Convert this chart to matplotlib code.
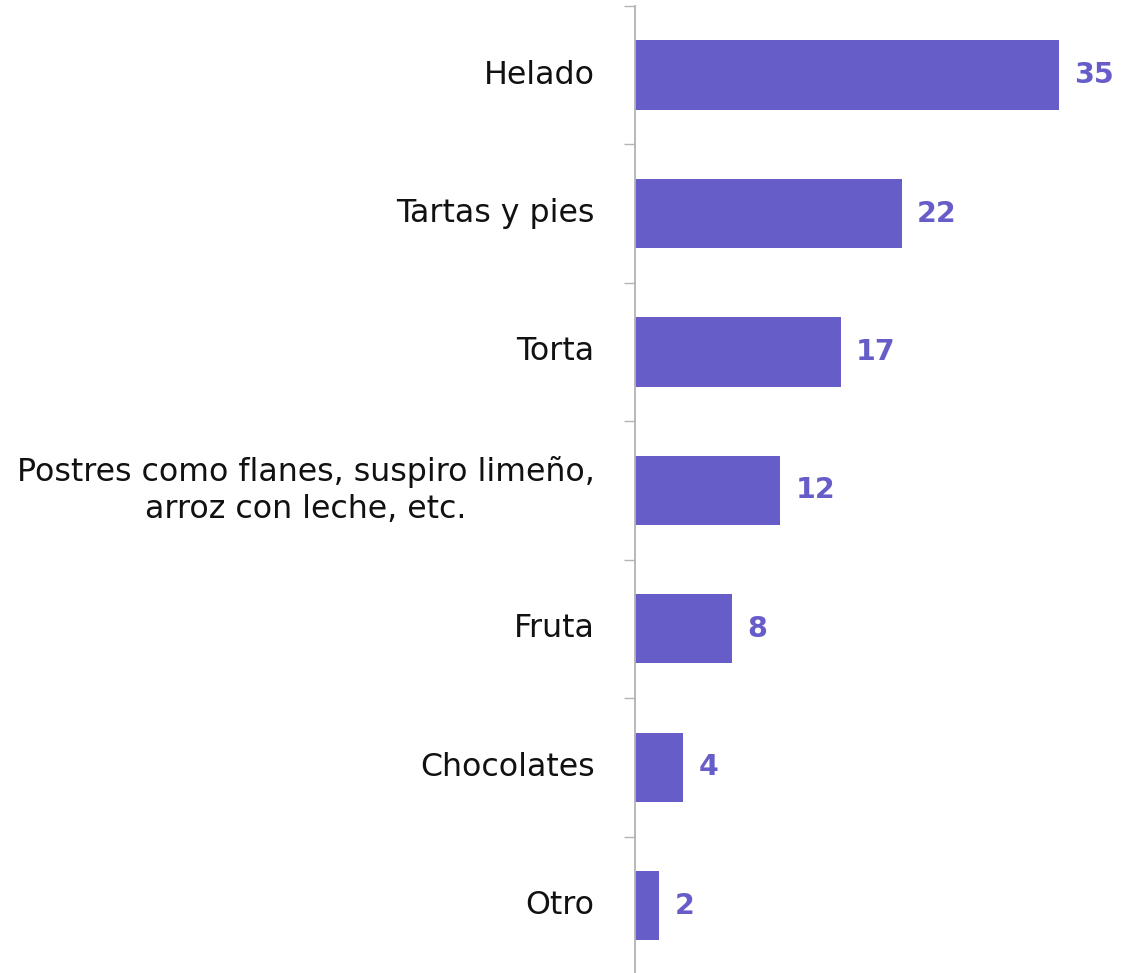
import matplotlib.pyplot as plt
import numpy as np

# Data
categorias = ['Helado', 'Tartas y pies', 'Torta',
              'Postres como flanes, suspiro limeño,\narroz con leche, etc.',
              'Fruta', 'Chocolates', 'Otro']
valores = [35, 22, 17, 12, 8, 4, 2]

color_barra = '#665dc9'
color_eje = '#b3b3b3'

plt.rcParams['font.family'] = ['DejaVu Sans']

fig = plt.figure(figsize=(11.39, 9.73), dpi=100)
ax = fig.add_axes([635 / 1139, -0.002, 1 - 635 / 1139, 0.996])

y = np.arange(len(categorias))
ax.barh(y, valores, height=0.5, color=color_barra)

ax.set_ylim(len(categorias) - 0.5, -0.5)
ax.set_xlim(0, 41.6)

# value labels
for yi, v in zip(y, valores):
    ax.annotate(str(v), (v, yi), xytext=(11, 0), textcoords='offset points',
                ha='left', va='center', fontsize=20.5, fontweight='bold',
                color=color_barra)

# category labels to the left of axis
for yi, c in zip(y, categorias):
    ax.annotate(c, (0, yi), xytext=(-29, 0), textcoords='offset points',
                ha='right', va='center', fontsize=22.8, color='#111111',
                multialignment='center', linespacing=1.28)

ax.set_yticks(np.arange(len(categorias) + 1) - 0.5)
ax.set_yticklabels([])
ax.tick_params(axis='y', length=8, width=1, color=color_eje, direction='out')
ax.set_xticks([])

for s in ['top', 'right', 'bottom']:
    ax.spines[s].set_visible(False)
ax.spines['left'].set_color(color_eje)
ax.spines['left'].set_linewidth(1.3)

fig.savefig('out.png', dpi=100)
